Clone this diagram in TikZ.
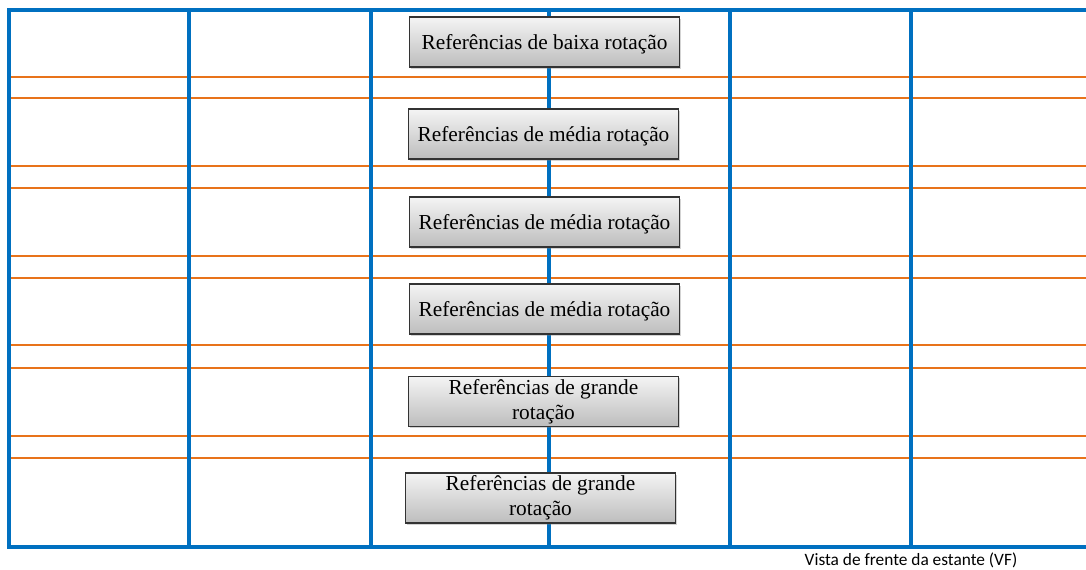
\documentclass[tikz,border=0pt]{standalone}
\usepackage{fontspec}
\setmainfont{Liberation Serif}
\newfontfamily\capfont{Carlito}
\usetikzlibrary{shadows}
\definecolor{shelfblue}{HTML}{0070C0}
\definecolor{shelforange}{HTML}{E8731A}
\definecolor{boxtop}{HTML}{F4F4F4}
\definecolor{boxbot}{HTML}{BDBDBD}
\tikzset{
  post/.style={draw=shelfblue, line width=2.7pt},
  shelf/.style={draw=shelforange, line width=2.2pt},
  refbox/.style={draw=black!80, line width=0.8pt, top color=boxtop, bottom color=boxbot,
    minimum width=203pt, minimum height=37.5pt, inner sep=0pt, align=center,
    font=\fontsize{16}{19}\selectfont,
    drop shadow={shadow xshift=1.2pt, shadow yshift=-1.2pt, opacity=0.35}},
  onebox/.style={refbox, text depth=0pt},
  caption/.style={font=\capfont\fontsize{13}{15}\selectfont, inner sep=0pt}
}
\begin{document}
\begin{tikzpicture}[x=0.75pt,y=-0.75pt]
\useasboundingbox (0,0) rectangle (1086,569);
% shelves (orange)
\foreach \yy in {77,98,166,188,256,278,345,368,436,458}
  \draw[shelf] (8,\yy) -- (1086,\yy);
% frame and posts (blue)
\draw[post] (1086,10) -- (9,10) -- (9,547) -- (1086,547);
\foreach \xx in {189,371,549,730,911}
  \draw[post] (\xx,10) -- (\xx,547);
% boxes
\node[onebox] (b1) at (544.5,42) {Referências de baixa rotação};
\node[onebox] (b2) at (543.5,134) {Referências de média rotação};
\node[onebox] (b3) at (544.5,222) {Referências de média rotação};
\node[onebox] (b4) at (544.5,309) {Referências de média rotação};
\node[refbox] (b5) at (543.5,401.5) {Referências de grande\\rotação};
\node[refbox] (b6) at (540.5,498) {Referências de grande\\rotação};
% caption
\node[caption] (cap) at (911,560) {Vista de frente da estante (VF)};
\end{tikzpicture}
\end{document}
